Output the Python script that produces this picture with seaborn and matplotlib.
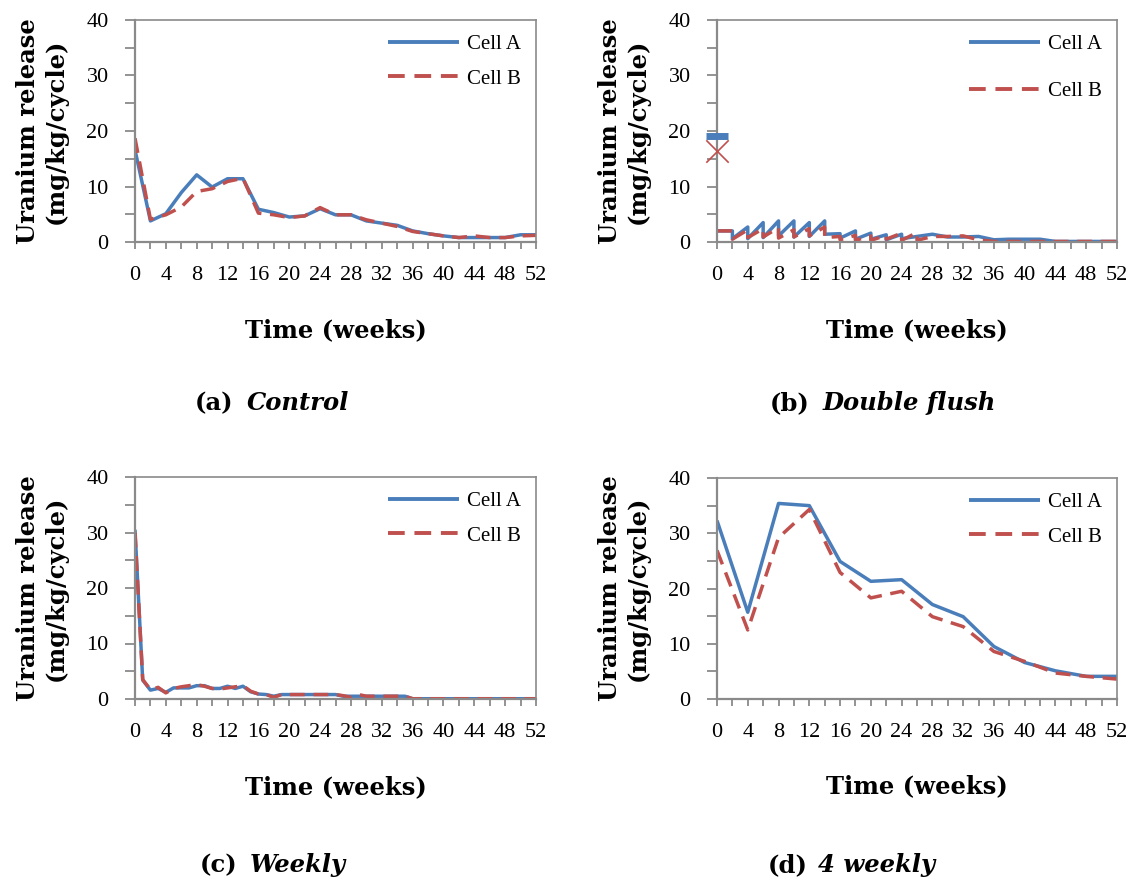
import matplotlib
matplotlib.use("Agg")
import matplotlib.pyplot as plt
from matplotlib.ticker import MultipleLocator
import seaborn as sns

sns.set_theme(style="white")
plt.rcParams["font.family"] = ["Liberation Serif", "DejaVu Serif"]
plt.rcParams["text.color"] = "black"
plt.rcParams["axes.labelcolor"] = "black"
plt.rcParams["xtick.color"] = "black"
plt.rcParams["ytick.color"] = "black"

BLUE = "#4a7ebb"
RED = "#c0504d"
SPINE = "#8a8a8a"

# ---- (a) Control: sampled every 2 weeks ----
weeks_control = [0, 2, 4, 6, 8, 10, 12, 14, 16, 18, 20, 22, 24, 26,
                 28, 30, 32, 34, 36, 38, 40, 42, 44, 46, 48, 50, 52]
control_a = [16.6, 3.8, 5.1, 8.9, 12.1, 9.9, 11.4, 11.4, 5.9, 5.3, 4.5, 4.7, 6.0, 4.9,
             4.9, 3.8, 3.4, 3.0, 2.0, 1.5, 1.1, 0.8, 0.8, 0.8, 0.8, 1.3, 1.3]
control_b = [18.7, 4.1, 4.9, 6.3, 9.1, 9.6, 10.9, 11.5, 5.2, 4.9, 4.4, 4.7, 6.2, 4.9,
             4.9, 4.0, 3.4, 2.8, 1.9, 1.5, 1.1, 0.8, 1.1, 0.8, 0.8, 1.1, 1.2]

# ---- (b) Double flush: first and second flush share a week ----
double_first_a = 19.1   # week-0 first flush, Cell A
double_first_b = 16.4   # week-0 first flush, Cell B
weeks_double_a = [0, 2, 2, 4, 4, 6, 6, 8, 8, 10, 10, 12, 12, 14, 14, 16, 16, 18, 18,
                  20, 20, 22, 22, 24, 24, 28, 30, 32, 34, 36, 38, 40, 42, 44, 46, 48, 50, 52]
double_a = [2.0, 2.0, 0.6, 2.7, 0.6, 3.5, 0.8, 3.8, 1.1, 3.8, 0.9, 3.5, 1.0, 3.8, 1.4,
            1.5, 0.7, 2.0, 0.5, 1.6, 0.5, 1.3, 0.4, 1.4, 0.6, 1.4, 0.9, 0.9, 1.0,
            0.4, 0.5, 0.5, 0.5, 0.1, 0.1, 0.1, 0.1, 0.1]
weeks_double_b = [0, 2, 2, 4, 4, 6, 6, 8, 8, 10, 10, 12, 12, 14, 14, 16, 16, 18, 18,
                  20, 20, 22, 22, 24, 24, 26, 26, 28, 30, 32, 34, 36, 38, 40, 42, 44,
                  46, 48, 50, 52]
double_b = [2.0, 2.0, 0.5, 2.2, 0.8, 2.4, 0.9, 2.6, 0.7, 2.2, 0.9, 2.4, 1.1, 2.7, 0.8,
            1.0, 0.4, 1.2, 0.3, 1.1, 0.3, 1.2, 0.5, 1.6, 0.3, 1.7, 0.3, 1.0, 1.0, 1.1,
            0.4, 0.1, 0.1, 0.1, 0.1, 0.1, 0.1, 0.1, 0.1, 0.1]

# ---- (c) Weekly ----
weeks_weekly = list(range(0, 53))
weekly_a = [30.5, 3.4, 1.6, 1.9, 1.2, 2.0, 2.0, 2.0, 2.4, 2.4, 1.9, 1.9, 2.3, 1.9,
            2.3, 1.3, 0.9, 0.8, 0.5, 0.8, 0.8, 0.8, 0.8, 0.8, 0.8, 0.8, 0.8, 0.5,
            0.5, 0.5, 0.5, 0.5, 0.5, 0.5, 0.5, 0.5, 0.05, 0.05, 0.05, 0.05, 0.05,
            0.05, 0.05, 0.05, 0.05, 0.05, 0.05, 0.05, 0.05, 0.05, 0.05, 0.05, 0.05]
weekly_b = [30.0, 3.5, 1.7, 2.1, 1.1, 1.9, 2.2, 2.4, 2.6, 2.3, 1.9, 1.8, 2.0, 2.2,
            2.4, 1.4, 0.9, 0.8, 0.3, 0.8, 0.8, 0.8, 0.8, 0.8, 0.8, 0.8, 0.8, 0.6,
            0.3, 0.8, 0.5, 0.5, 0.5, 0.5, 0.5, 0.5, 0.05, 0.05, 0.05, 0.05, 0.05,
            0.05, 0.05, 0.05, 0.05, 0.05, 0.05, 0.05, 0.05, 0.05, 0.05, 0.05, 0.05]

# ---- (d) 4 weekly ----
weeks_4weekly = [0, 4, 8, 12, 16, 20, 24, 28, 32, 36, 40, 44, 48, 52]
four_a = [32.3, 15.7, 35.4, 35.0, 24.9, 21.3, 21.6, 17.1, 14.9, 9.5, 6.6, 5.1, 4.1, 4.1]
four_b = [26.9, 12.5, 29.2, 34.3, 22.9, 18.3, 19.5, 14.9, 13.1, 8.6, 6.8, 4.7, 4.1, 3.6]

panel_tags = ["(a)", "(b)", "(c)", "(d)"]
panel_names = ["Control", "Double flush", "Weekly", "4 weekly"]
x_ticklabels = [str(w) for w in range(0, 53, 4)]
y_ticklabels = [str(v) for v in range(0, 41, 10)]

W, H = 1140, 883
fig = plt.figure(figsize=(W / 100, H / 100), dpi=100)
fig.patch.set_facecolor("white")


def px_axes(left, top, right, bottom):
    return fig.add_axes([left / W, 1 - bottom / H, (right - left) / W, (bottom - top) / H])


boxes = [(135, 20, 536, 242), (717, 20, 1117, 242),
         (135, 477, 536, 699), (717, 478, 1117, 699)]
axes = [px_axes(*b) for b in boxes]

dash = (0, (4.3, 2.5))
lw = 2.5

series = [
    (weeks_control, control_a, weeks_control, control_b),
    (weeks_double_a, double_a, weeks_double_b, double_b),
    (weeks_weekly, weekly_a, weeks_weekly, weekly_b),
    (weeks_4weekly, four_a, weeks_4weekly, four_b),
]

label_font = ["DejaVu Serif"]

for i, (ax, (xa, ya, xb, yb)) in enumerate(zip(axes, series)):
    sns.lineplot(x=xa, y=ya, ax=ax, color=BLUE, linewidth=lw, estimator=None,
                 sort=False, label="Cell A", solid_capstyle="butt")
    sns.lineplot(x=xb, y=yb, ax=ax, color=RED, linewidth=lw, estimator=None,
                 sort=False, label="Cell B", linestyle=dash, dash_capstyle="butt")
    if i == 1:
        sns.scatterplot(x=[0], y=[double_first_a], ax=ax, marker="_", s=230,
                        color=BLUE, linewidth=5, clip_on=False, zorder=5)
        sns.scatterplot(x=[0], y=[double_first_b], ax=ax, marker="x", s=260,
                        color=RED, linewidth=1.2, clip_on=False, zorder=5)

    ax.set_xlim(0, 52)
    ax.set_ylim(0, 40)
    ax.set_xticks(range(0, 53, 4))
    ax.set_xticklabels(x_ticklabels)
    ax.set_yticks(range(0, 41, 10))
    ax.set_yticklabels(y_ticklabels)
    ax.xaxis.set_minor_locator(MultipleLocator(2))
    ax.yaxis.set_minor_locator(MultipleLocator(5))
    ax.tick_params(axis="both", which="both", direction="out", color=SPINE,
                   width=1.3, labelsize=16, labelcolor="black")
    ax.tick_params(axis="x", which="both", length=5, pad=12, bottom=True)
    ax.tick_params(axis="y", which="both", length=7, pad=12, left=True)
    for side, sp in ax.spines.items():
        sp.set_visible(True)
        sp.set_color(SPINE)
        sp.set_linewidth(1.6 if side in ("left", "bottom") else 1.2)
    ax.grid(False)
    ax.set_xlabel("")
    ax.set_ylabel("")

    ax.text(-0.232, 0.5, "Uranium release\n(mg/kg/cycle)", transform=ax.transAxes,
            rotation=90, ha="center", va="center", fontsize=17.5, fontweight="bold",
            family=label_font, linespacing=1.2, color="black")
    ax.text(0.5, -0.396, "Time (weeks)", transform=ax.transAxes, ha="center",
            va="center", fontsize=17.5, fontweight="bold", family=label_font,
            color="black")

    ls = 0.72 if i in (0, 2, 3) else 1.3
    leg = ax.legend(loc="upper right", bbox_to_anchor=(1.0, 1.0), frameon=False,
                    fontsize=15, handlelength=3.4, handletextpad=0.4,
                    labelspacing=ls, borderaxespad=0.3)
    for line in leg.get_lines():
        line.set_linewidth(lw + 0.3)
    for t in leg.get_texts():
        t.set_color("black")

# Panel captions
caption_pos = [(195, 247, 403), (770, 823, 403), (200, 250, 865), (768, 818, 865)]
for tag, name, (xt, xn, yc) in zip(panel_tags, panel_names, caption_pos):
    fig.text(xt / W, 1 - yc / H, tag, ha="left", va="center", fontsize=17.5,
             fontweight="bold", family=label_font, color="black")
    fig.text(xn / W, 1 - yc / H, name, ha="left", va="center", fontsize=17.5,
             fontweight="bold", style="italic", family=label_font, color="black")

fig.savefig("out.png", dpi=100, facecolor="white")
